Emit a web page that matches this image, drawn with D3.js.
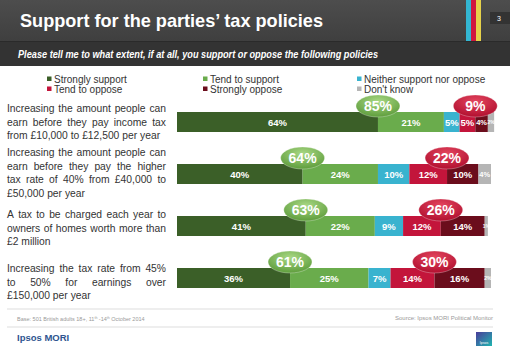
<!DOCTYPE html>
<html>
<head>
<meta charset="utf-8">
<script src="https://cdn.jsdelivr.net/npm/d3@7"></script>
<style>
  body { margin: 0; background: #fff; }
  svg { display: block; font-family: "Liberation Sans", Arial, sans-serif; }
</style>
</head>
<body>
<div id="chart"></div>
<script>
// data
var policies = ["p1", "p2", "p3", "p4"];
var policyLines = [
    ["Increasing the amount people can", "earn before they pay income tax", "from £10,000 to £12,500 per year"],
    ["Increasing the amount people can", "earn before they pay the higher", "tax rate of 40% from £40,000 to", "£50,000 per year"],
    ["A tax to be charged each year to", "owners of homes worth more than", "£2 million"],
    ["Increasing the tax rate from 45%", "to 50% for earnings over", "£150,000 per year"]
];
var answers = ["Strongly support", "Tend to support", "Neither support nor oppose", "Tend to oppose", "Strongly oppose", "Don't know"];
var answerColors = ["#3b5f28", "#6aac4c", "#39b3cf", "#c3153b", "#6b0d1c", "#b5b5b5"];
var stronglySupport = [64, 40, 41, 36];
var tendSupport = [21, 24, 22, 25];
var neither = [5, 10, 9, 7];
var tendOppose = [5, 12, 12, 14];
var stronglyOppose = [4, 10, 14, 16];
var dontKnow = [2, 4, 1, 2];
var netSupport = [85, 64, 63, 61];
var netOppose = [9, 22, 26, 30];

var W = 510, H = 353;
var svg = d3.select("#chart").append("svg").attr("width", W).attr("height", H);

var defs = svg.append("defs");
var hg = defs.append("linearGradient").attr("id", "hdr").attr("x1", 0).attr("y1", 0).attr("x2", 0).attr("y2", 1);
hg.append("stop").attr("offset", "0%").attr("stop-color", "#4d4d4d");
hg.append("stop").attr("offset", "100%").attr("stop-color", "#3f3f3f");
var gg = defs.append("radialGradient").attr("id", "greenPill").attr("cx", "50%").attr("cy", "30%").attr("r", "70%");
gg.append("stop").attr("offset", "0%").attr("stop-color", "#a9d884");
gg.append("stop").attr("offset", "100%").attr("stop-color", "#5e9d3c");
var rg = defs.append("radialGradient").attr("id", "redPill").attr("cx", "50%").attr("cy", "30%").attr("r", "70%");
rg.append("stop").attr("offset", "0%").attr("stop-color", "#e4465f");
rg.append("stop").attr("offset", "100%").attr("stop-color", "#b10f2f");
var lg = defs.append("linearGradient").attr("id", "logo").attr("x1", 0).attr("y1", 0).attr("x2", 1).attr("y2", 1);
lg.append("stop").attr("offset", "0%").attr("stop-color", "#4a3c9a");
lg.append("stop").attr("offset", "100%").attr("stop-color", "#1fb5b0");

// header
svg.append("rect").attr("x", 0).attr("y", 0).attr("width", W).attr("height", 41).attr("fill", "url(#hdr)");
svg.append("rect").attr("x", 0).attr("y", 41).attr("width", W).attr("height", 25).attr("fill", "#333333");
svg.append("rect").attr("x", 0).attr("y", 41).attr("width", W).attr("height", 1).attr("fill", "#2a2a2a");
svg.append("rect").attr("x", 466).attr("y", 0).attr("width", 5).attr("height", 41).attr("fill", "#33b6d2");
svg.append("rect").attr("x", 471).attr("y", 0).attr("width", 5).attr("height", 41).attr("fill", "#d0173f");
svg.append("rect").attr("x", 476).attr("y", 0).attr("width", 5).attr("height", 41).attr("fill", "#e6d24a");
svg.append("rect").attr("x", 490).attr("y", 12).attr("width", 20).attr("height", 12).attr("fill", "#333");
svg.append("text").attr("x", 497).attr("y", 21).attr("fill", "#fff").style("font-size", "7px").text("3");

svg.append("text")
    .attr("x", 20).attr("y", 27)
    .attr("fill", "#fff")
    .attr("textLength", 303).attr("lengthAdjust", "spacingAndGlyphs")
    .style("font-size", "18.5px").style("font-weight", "bold")
    .text("Support for the parties’ tax policies");

svg.append("text")
    .attr("x", 18).attr("y", 58)
    .attr("fill", "#fff")
    .attr("textLength", 360).attr("lengthAdjust", "spacingAndGlyphs")
    .style("font-size", "10.5px").style("font-weight", "bold").style("font-style", "italic")
    .text("Please tell me to what extent, if at all, you support or oppose the following policies");

// legend
var legendX = [47, 203, 357];
var legend = svg.append("g").selectAll("g")
    .data(answers)
    .enter().append("g")
    .attr("transform", function(d, i) {
        return "translate(" + legendX[i % 3] + "," + (79 + Math.floor(i / 3) * 10) + ")";
    });
legend.append("rect").attr("x", 0).attr("y", -2.5).attr("width", 4.5).attr("height", 4.5)
    .attr("fill", function(d, i) { return answerColors[i]; });
legend.append("text").attr("x", 7).attr("y", 3.5).attr("fill", "#333")
    .style("font-size", "10px").text(function(d) { return d; });

// scales
var x = d3.scaleLinear().domain([0, 100]).range([177, 491]);
var y = d3.scaleBand().domain(policies).range([96, 304]).paddingInner(32 / 52).paddingOuter(16 / 52);

var rows = policies.map(function(p, i) {
    var vals = [stronglySupport[i], tendSupport[i], neither[i], tendOppose[i], stronglyOppose[i], dontKnow[i]];
    var start = 0;
    return vals.map(function(v, k) {
        var s = { policy: p, k: k, v: v, x0: start, x1: start + v };
        start += v;
        return s;
    });
});

var rowG = svg.append("g").selectAll("g")
    .data(rows)
    .enter().append("g")
    .attr("transform", function(d, i) { return "translate(0," + y(policies[i]) + ")"; });

rowG.selectAll("rect")
    .data(function(d) { return d; })
    .enter().append("rect")
    .attr("x", function(d) { return x(d.x0); })
    .attr("y", 0)
    .attr("width", function(d) { return x(d.x1) - x(d.x0); })
    .attr("height", y.bandwidth())
    .attr("fill", function(d) { return answerColors[d.k]; });

// tiny segments get a smaller label so they do not run together
function segFont(v) {
    if (v <= 2) return "5px";
    if (v < 5) return "7.5px";
    return "9.5px";
}
rowG.selectAll("text.seg")
    .data(function(d) { return d; })
    .enter().append("text")
    .attr("class", "seg")
    .attr("x", function(d) { return (x(d.x0) + x(d.x1)) / 2; })
    .attr("y", function(d) { return y.bandwidth() / 2 + (d.v <= 2 ? 2 : d.v < 5 ? 3 : 3.5); })
    .attr("text-anchor", "middle")
    .attr("fill", "#fff")
    .style("font-size", function(d) { return segFont(d.v); })
    .style("font-weight", "bold")
    .text(function(d) { return d.v + "%"; });

// net pills
function pill(g, cx, fill, label) {
    var p = g.append("g").attr("transform", "translate(" + cx + ",-6)");
    p.append("ellipse").attr("rx", 22).attr("ry", 11).attr("fill", fill)
        .attr("stroke", "#fff").attr("stroke-opacity", 0.5).attr("stroke-width", 0.6);
    p.append("text").attr("y", 5).attr("text-anchor", "middle").attr("fill", "#fff")
        .style("font-size", "14px").style("font-weight", "bold").text(label);
}
rowG.each(function(d, i) {
    var g = d3.select(this);
    pill(g, x(stronglySupport[i]), "url(#greenPill)", netSupport[i] + "%");
    pill(g, x(stronglySupport[i] + tendSupport[i] + neither[i] + tendOppose[i]), "url(#redPill)", netOppose[i] + "%");
});

// policy wording, justified like the slide
var textLeft = 7, textRight = 166, lineH = 13.5;
var firstLineOffset = [-4, -12, -2, 0]; // first line centre relative to bar top
policyLines.forEach(function(lines, i) {
    var top = y(policies[i]) + firstLineOffset[i];
    var g = svg.append("g");
    lines.forEach(function(line, j) {
        var yy = top + j * lineH + 4;
        var words = line.split(" ");
        var last = j === lines.length - 1;
        var nodes = words.map(function(w) {
            return g.append("text").attr("y", yy).attr("fill", "#333")
                .style("font-size", "10.3px").text(w);
        });
        var widths = nodes.map(function(n) { return n.node().getComputedTextLength(); });
        var total = d3.sum(widths);
        var gap = last || words.length < 2 ? 2.9 : (textRight - textLeft - total) / (words.length - 1);
        var cx = textLeft;
        nodes.forEach(function(n, k) {
            n.attr("x", cx);
            cx += widths[k] + gap;
        });
    });
});

// footer
svg.append("line").attr("x1", 7).attr("x2", 493).attr("y1", 309).attr("y2", 309).attr("stroke", "#ddd");
svg.append("line").attr("x1", 7).attr("x2", 493).attr("y1", 327).attr("y2", 327).attr("stroke", "#ddd");
var base = svg.append("text").attr("x", 17).attr("y", 321).attr("fill", "#999").style("font-size", "5.5px");
base.append("tspan").text("Base: 501 British adults 18+, 11");
base.append("tspan").attr("dy", -2).style("font-size", "3.5px").text("th");
base.append("tspan").attr("dy", 2).text(" -14");
base.append("tspan").attr("dy", -2).style("font-size", "3.5px").text("th");
base.append("tspan").attr("dy", 2).text(" October 2014");
svg.append("text").attr("x", 493).attr("y", 320).attr("text-anchor", "end").attr("fill", "#999")
    .style("font-size", "6px").text("Source: Ipsos MORI Political Monitor");
svg.append("text").attr("x", 17).attr("y", 341).attr("fill", "#2f5590")
    .style("font-size", "9.5px").style("font-weight", "bold").text("Ipsos MORI");
svg.append("rect").attr("x", 476).attr("y", 332).attr("width", 16).attr("height", 14).attr("fill", "url(#logo)");
svg.append("text").attr("x", 484).attr("y", 344).attr("text-anchor", "middle").attr("fill", "#fff")
    .style("font-size", "3.5px").text("Ipsos");
</script>
</body>
</html>
